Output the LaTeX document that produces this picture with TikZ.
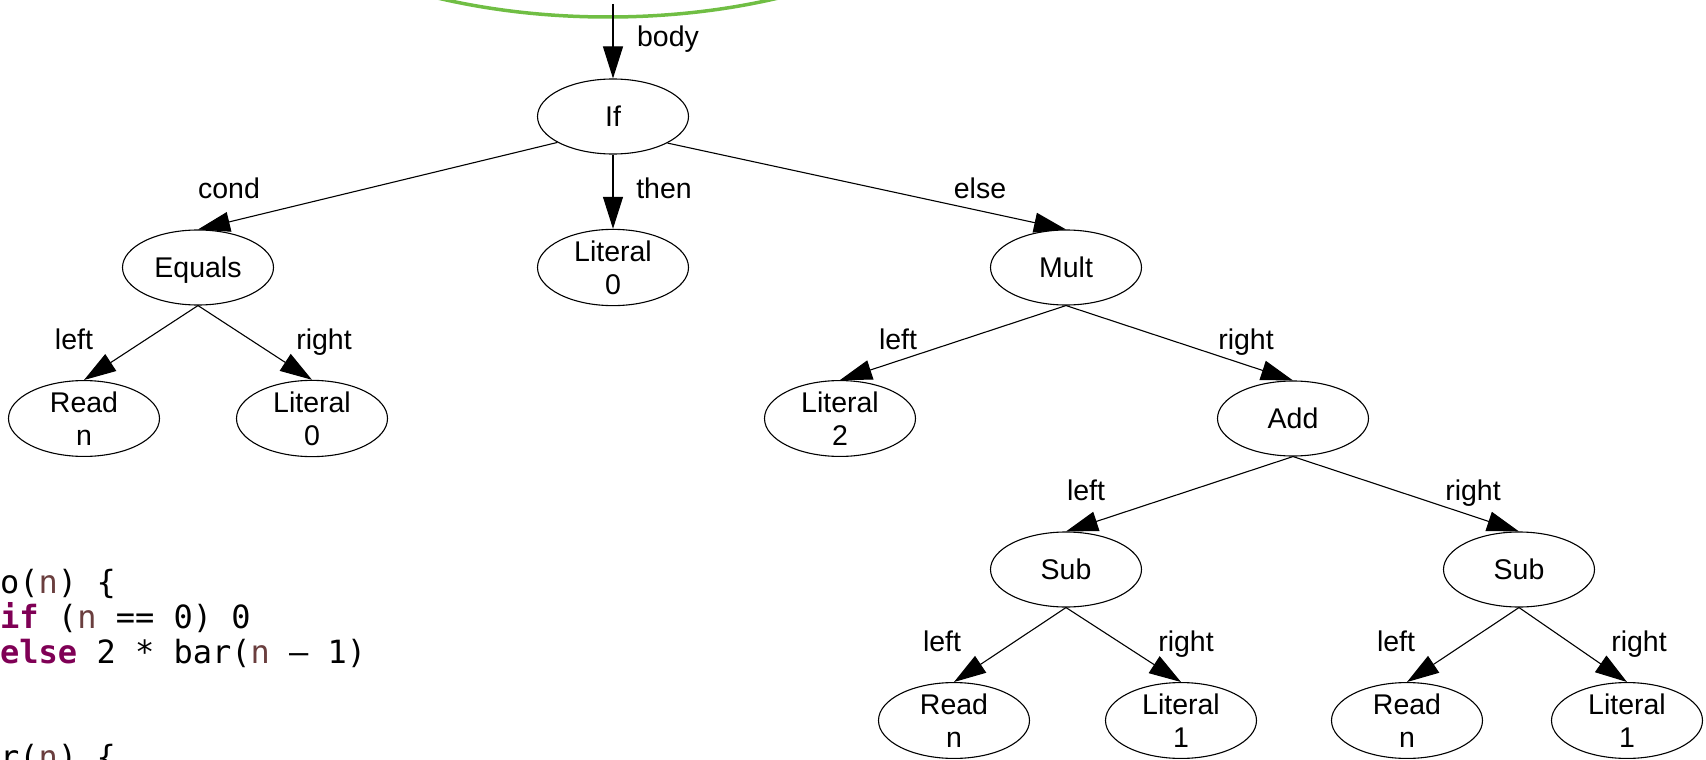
\documentclass[tikz,border=0pt]{standalone}
\usepackage{fontspec}
\setmainfont{Liberation Sans}
\newfontfamily\codefont{DejaVu Sans Mono}
\usetikzlibrary{arrows.meta,shapes.geometric}

\definecolor{kwcolor}{HTML}{7F0055}
\definecolor{varcolor}{HTML}{6A3E3E}
\definecolor{hlgreen}{RGB}{112,190,68}

\begin{document}
\begin{tikzpicture}[x=1pt,y=-1pt,
  ast/.style={ellipse, draw, line width=1.1pt, minimum width=151pt,
    minimum height=75pt, inner sep=0pt, align=center,
    font=\fontsize{28.5}{33}\selectfont},
  one/.style={text height=20.4pt, text depth=0pt},
  edge/.style={line width=1.1pt, -{Triangle[length=32pt,width=20pt]}},
  elabel/.style={anchor=base, inner sep=0pt, font=\fontsize{28.5}{33}\selectfont},
  code/.style={anchor=base west, inner sep=0pt,
    font=\codefont\fontsize{32}{35}\selectfont},
  kw/.style={}, 
]
\useasboundingbox (0,0) rectangle (1706,760);
\clip (0,0) rectangle (1706,760);

% highlighted function node (only its lower rim is in view)
\draw[hlgreen, line width=3.5pt] (608,-183) ellipse [x radius=400pt, y radius=200pt];
\coordinate (bodytail) at (613,4);

% expression tree
\node[ast,one] (if)    at (613,116.5)  {If};
\node[ast,one] (eq)    at (198,267.5)  {Equals};
\node[ast]     (lit0a) at (613,267.5)  {Literal\\0};
\node[ast,one] (mult)  at (1066,267.5) {Mult};
\node[ast]     (read1) at (84,418.5)   {Read\\n};
\node[ast]     (lit0b) at (312,418.5)  {Literal\\0};
\node[ast]     (lit2)  at (840,418.5)  {Literal\\2};
\node[ast,one] (add)   at (1293,418.5) {Add};
\node[ast,one] (sub1)  at (1066,569.5) {Sub};
\node[ast,one] (sub2)  at (1519,569.5) {Sub};
\node[ast]     (read2) at (954,720.5)  {Read\\n};
\node[ast]     (lit1a) at (1181,720.5) {Literal\\1};
\node[ast]     (read3) at (1407,720.5) {Read\\n};
\node[ast]     (lit1b) at (1627,720.5) {Literal\\1};

% edges
\draw[edge] (bodytail) -- (if.north);
\draw[edge] (if.205.7) -- (eq.north);
\draw[edge] (if.south) -- (lit0a.north);
\draw[edge] (if.-26) -- (mult.north);
\draw[edge] (eq.south) -- (read1.north);
\draw[edge] (eq.south) -- (lit0b.north);
\draw[edge] (mult.south) -- (lit2.north);
\draw[edge] (mult.south) -- (add.north);
\draw[edge] (add.south) -- (sub1.north);
\draw[edge] (add.south) -- (sub2.north);
\draw[edge] (sub1.south) -- (read2.north);
\draw[edge] (sub1.south) -- (lit1a.north);
\draw[edge] (sub2.south) -- (read3.north);
\draw[edge] (sub2.south) -- (lit1b.north);

% edge labels
\node[elabel] (lbody) at (668,47)  {body};
\node[elabel] (lcond) at (229,198) {cond};
\node[elabel] (lthen) at (664,198) {then};
\node[elabel] (lelse) at (980,198) {else};
\node[elabel] (leq1)  at (74,349)   {left};
\node[elabel] (leq2)  at (324,349)  {right};
\node[elabel] (lmu1)  at (898,349)  {left};
\node[elabel] (lmu2)  at (1246,349) {right};
\node[elabel] (lad1)  at (1086,500) {left};
\node[elabel] (lad2)  at (1473,500) {right};
\node[elabel] (lsa1)  at (942,651)  {left};
\node[elabel] (lsa2)  at (1186,651) {right};
\node[elabel] (lsb1)  at (1396,651) {left};
\node[elabel] (lsb2)  at (1639,651) {right};

% source code
\node[code] (c1) at (0,593) {o({\color{varcolor}n}) \{};
\node[code] (c2) at (0,628) {{\bfseries\color{kwcolor}if} ({\color{varcolor}n} == 0) 0};
\node[code] (c3) at (0,663) {{\bfseries\color{kwcolor}else} 2 * bar({\color{varcolor}n} – 1)};
\node[code] (c4) at (0,768) {r({\color{varcolor}n}) \{};
\end{tikzpicture}
\end{document}
